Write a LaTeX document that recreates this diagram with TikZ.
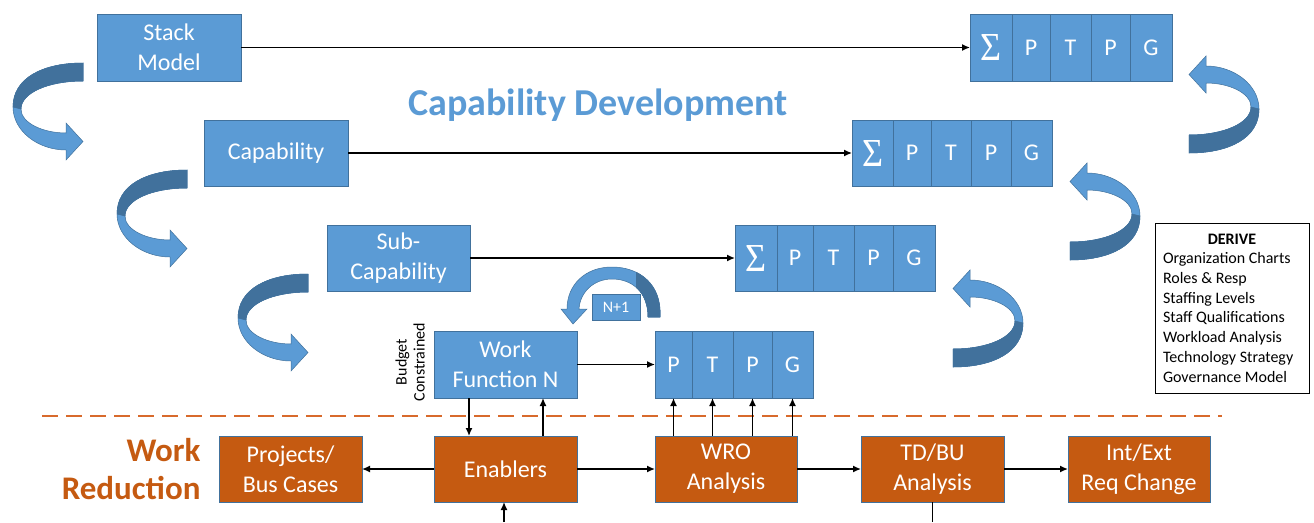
\documentclass[tikz,border=0pt]{standalone}
\usepackage{fontspec}
\usepackage{graphicx}
\setmainfont{Carlito}
\newfontfamily\sigfont{Liberation Serif}
\usetikzlibrary{arrows.meta,calc}
\definecolor{cblue}{HTML}{5B9BD5}
\definecolor{cdark}{HTML}{41719C}
\definecolor{cedge}{HTML}{41719C}
\definecolor{corange}{HTML}{C55A11}
\definecolor{cdash}{HTML}{D86A2C}
\tikzset{
  bbox/.style={fill=cblue, draw=cedge, line width=0.8pt, text=white,
    font=\fontsize{24}{30}\selectfont, align=flush center, inner sep=0pt, outer sep=0pt},
  obox/.style={bbox, fill=corange, minimum width=143pt, minimum height=66pt},
  cell/.style={fill=cblue, draw=cedge, line width=0.8pt, text=white,
    font=\fontsize{24}{26}\selectfont, inner sep=0pt, outer sep=0pt, anchor=north west},
  arr/.style={-{Latex[length=8pt,width=7pt]}, line width=1.4pt, black},
  ln/.style={line width=1.4pt, black},
  bendlight/.style={fill=cblue, draw=cedge, line width=0.5pt},
  benddark/.style={fill=cdark, draw=cedge, line width=0.5pt},
}
\newcommand{\sig}{\resizebox{21pt}{26pt}{\sigfont Σ}}
\newcommand{\bendarrow}[2]{%
  \begin{scope}[shift={#1}, rotate=#2]
    \path[bendlight] (0,0) .. controls (-40,0) and (-70,15) .. (-70,44)
      .. controls (-70,68) and (-45,87) .. (-17,87) -- (-17,97) -- (0,78.5)
      -- (-17,60) -- (-17,70) .. controls (-40,70) and (-62,60) .. (-62,46)
      .. controls (-62,30) and (-35,18) .. (0,18) -- cycle;
    \path[benddark] (0,0) .. controls (-40,0) and (-70,15) .. (-70,44)
      -- (-62,46) .. controls (-62,30) and (-35,18) .. (0,18) -- cycle;
  \end{scope}}
\begin{document}
\begin{tikzpicture}[x=1pt, y=-1pt]
\useasboundingbox (0,0) rectangle (1314,522);

% curved block arrows
\bendarrow{(83,63)}{0}
\bendarrow{(187,170)}{0}
\bendarrow{(308,274)}{0}
\bendarrow{(1189,153)}{180}
\bendarrow{(1070,260)}{180}
\bendarrow{(953,367)}{180}

% N+1 arrow
\path[bendlight] (660,317) .. controls (662,285) and (640,267) .. (612,267)
  .. controls (585,267) and (567,285) .. (567,309) -- (561,309) -- (573,324)
  -- (587,309) -- (579,309) .. controls (580,292) and (594,279) .. (612,279)
  .. controls (632,279) and (648,292) .. (648,317) -- cycle;
\begin{scope}
  \clip (636,260) rectangle (670,330);
  \path[benddark] (660,317) .. controls (662,285) and (640,267) .. (612,267)
    .. controls (585,267) and (567,285) .. (567,309) -- (561,309) -- (573,324)
    -- (587,309) -- (579,309) .. controls (580,292) and (594,279) .. (612,279)
    .. controls (632,279) and (648,292) .. (648,317) -- cycle;
\end{scope}
\node[bbox, font=\fontsize{16}{18}\selectfont, minimum width=48pt, minimum height=26pt] (np) at (616,307) {N+1};

% title
\node[anchor=base, text=cblue, font=\fontsize{38}{42}\selectfont\bfseries] (title) at (598,115) {Capability Development};

% left blue boxes
\node[bbox, minimum width=144pt, minimum height=67pt] (stack) at (169,47.5) {Stack\\Model};
\node[bbox, minimum width=144pt, minimum height=66pt] (cap) at (276,153) {Capability};
\node[bbox, minimum width=143pt, minimum height=66pt] (sub) at (398.5,258) {Sub-\\Capability};
\node[bbox, minimum width=143pt, minimum height=67pt] (wf) at (505.5,364.5) {Work\\Function N};

% row 1
\node[cell, minimum width=42pt, minimum height=67pt] (r1s) at (970,14) {\sig};
\node[cell, minimum width=38pt, minimum height=67pt] (r1p) at (1012,14) {P};
\node[cell, minimum width=41pt, minimum height=67pt] (r1t) at (1050,14) {T};
\node[cell, minimum width=39pt, minimum height=67pt] (r1q) at (1091,14) {P};
\node[cell, minimum width=42pt, minimum height=67pt] (r1g) at (1130,14) {G};
% row 2
\node[cell, minimum width=41pt, minimum height=66pt] (r2s) at (852,120) {\sig};
\node[cell, minimum width=38pt, minimum height=66pt] (r2p) at (893,120) {P};
\node[cell, minimum width=40pt, minimum height=66pt] (r2t) at (931,120) {T};
\node[cell, minimum width=40pt, minimum height=66pt] (r2q) at (971,120) {P};
\node[cell, minimum width=41pt, minimum height=66pt] (r2g) at (1011,120) {G};
% row 3
\node[cell, minimum width=42pt, minimum height=66pt] (r3s) at (735,225) {\sig};
\node[cell, minimum width=36pt, minimum height=66pt] (r3p) at (777,225) {P};
\node[cell, minimum width=41pt, minimum height=66pt] (r3t) at (813,225) {T};
\node[cell, minimum width=39pt, minimum height=66pt] (r3q) at (854,225) {P};
\node[cell, minimum width=42pt, minimum height=66pt] (r3g) at (893,225) {G};
% row 4
\node[cell, minimum width=37pt, minimum height=67pt] (r4p) at (655,331) {P};
\node[cell, minimum width=41pt, minimum height=67pt] (r4t) at (692,331) {T};
\node[cell, minimum width=39pt, minimum height=67pt] (r4q) at (733,331) {P};
\node[cell, minimum width=41pt, minimum height=67pt] (r4g) at (772,331) {G};

\draw[arr] (stack.east) -- (r1s.west);
\draw[arr] (cap.east) -- (r2s.west);
\draw[arr] (sub.east) -- (r3s.west);
\draw[arr] (wf.east) -- (r4p.west);

% budget constrained
\node[rotate=90, align=flush center, font=\fontsize{16}{18}\selectfont] (bc) at (410,362) {Budget\\Constrained};

% DERIVE box
\node[draw=black, line width=1pt, text width=138pt, minimum width=154pt, minimum height=170pt,
  inner xsep=8pt, inner ysep=0pt, align=flush left, font=\fontsize{16}{19.7}\selectfont] (derive) at (1232,308)
  {\makebox[\linewidth]{\textbf{DERIVE}}\\Organization Charts\\Roles \& Resp\\Staffing Levels\\Staff Qualifications\\Workload Analysis\\Technology Strategy\\Governance Model};

% dashed separator
\coordinate (dl) at (42,416);
\coordinate (dr) at (1222,416);
\draw[cdash, line width=2.5pt, dash pattern=on 16pt off 8pt] (dl) -- (dr);

% work reduction
\node[align=flush right, anchor=east, text=corange, font=\fontsize{33}{38}\selectfont\bfseries] (wr) at (204,469) {Work\\Reduction};

% orange boxes
\node[obox] (proj) at (290.5,469) {Projects/\\Bus Cases};
\node[obox] (ena) at (505.5,469) {Enablers};
\node[obox, minimum width=142pt] (wro) at (726,469) {WRO\\Analysis};
\node[obox] (tdbu) at (932.5,469) {TD/BU\\Analysis};
\node[obox, minimum width=142pt] (intext) at (1139,469) {Int/Ext\\Req Change};

\draw[arr] (ena.west) -- (proj.east);
\draw[arr] (ena.east) -- (wro.west);
\draw[arr] (wro.east) -- (tdbu.west);
\draw[arr] (tdbu.east) -- (intext.west);

\draw[arr] ([xshift=-36.5pt]wf.south) -- ([xshift=-36.5pt]ena.north);
\draw[arr] ([xshift=37.5pt]ena.north) -- ([xshift=37.5pt]wf.south);

\draw[arr] (wro.north -| r4p) -- (r4p.south);
\draw[arr] (wro.north -| r4t) -- (r4t.south);
\draw[arr] (wro.north -| r4q) -- (r4q.south);
\draw[arr] (wro.north -| r4g) -- (r4g.south);

\coordinate (eb) at (504,522);
\draw[arr] (eb) -- (eb |- ena.south);
\coordinate (tb) at (932.5,522);
\draw[ln] (tdbu.south) -- (tb);
\end{tikzpicture}
\end{document}
